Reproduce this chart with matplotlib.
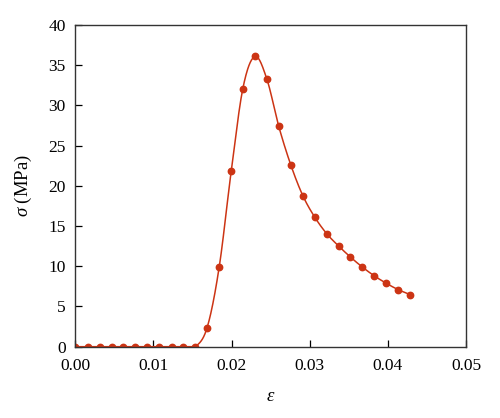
import matplotlib
matplotlib.use("Agg")
import matplotlib.pyplot as plt
import numpy as np

# strain / stress (evenly spaced samples)
strain = [0.0, 0.00158, 0.00311, 0.00465, 0.00614, 0.00767, 0.00921, 0.01074,
          0.01232, 0.01381, 0.01535, 0.01684, 0.01841, 0.01995, 0.02144,
          0.02302, 0.02451, 0.02604, 0.02758, 0.02911, 0.03065, 0.03218,
          0.03372, 0.03521, 0.03674, 0.03828, 0.03981, 0.04135, 0.04288]
stress = [0.0, 0.0, 0.0, 0.0, 0.0, 0.0, 0.0, 0.0,
          0.0, 0.0, 0.0, 2.28, 9.87, 21.8, 32.1,
          36.1, 33.3, 27.4, 22.6, 18.8, 16.1, 14.05,
          12.5, 11.15, 9.9, 8.8, 7.88, 7.08, 6.47]
x_ticks = [0.00, 0.01, 0.02, 0.03, 0.04, 0.05]
y_ticks = [0, 5, 10, 15, 20, 25, 30, 35, 40]

COLOR = "#cc3414"

plt.rcParams["font.family"] = ["Liberation Serif", "DejaVu Serif"]
plt.rcParams["mathtext.fontset"] = "custom"
plt.rcParams["mathtext.it"] = "Liberation Serif:italic"
plt.rcParams["mathtext.rm"] = "Liberation Serif"


def _smooth(x, y, xs):
    """Cardinal (Catmull-Rom) cubic through the samples, for the drawn line only."""
    x = np.asarray(x, float)
    y = np.asarray(y, float)
    h = np.diff(x)
    m = np.gradient(y, x)
    idx = np.clip(np.searchsorted(x, xs) - 1, 0, len(h) - 1)
    t = (xs - x[idx]) / h[idx]
    h00 = 2 * t**3 - 3 * t**2 + 1
    h10 = t**3 - 2 * t**2 + t
    h01 = -2 * t**3 + 3 * t**2
    h11 = t**3 - t**2
    ys = (h00 * y[idx] + h10 * h[idx] * m[idx]
          + h01 * y[idx + 1] + h11 * h[idx] * m[idx + 1])
    return np.maximum(ys, 0.0)


fig = plt.figure(figsize=(5.0, 4.18), dpi=100)
ax = fig.add_axes([0.1506, 0.1706, 0.7814, 0.7694])

xs = np.linspace(strain[0], strain[-1], 800)
ax.plot(xs, _smooth(strain, stress, xs), color=COLOR, lw=1.1)
ax.plot(strain, stress, "o", color=COLOR, ms=4.6, mec=COLOR)

ax.set_xlim(0, 0.05)
ax.set_ylim(0, 40)
ax.set_xticks(x_ticks)
ax.set_xticklabels([f"{v:.2f}" for v in x_ticks])
ax.set_yticks(y_ticks)
ax.tick_params(direction="in", length=5, width=0.9, labelsize=12.5,
               top=False, right=False)
ax.tick_params(axis="x", pad=8)
ax.tick_params(axis="y", pad=7)
for s in ax.spines.values():
    s.set_linewidth(1.0)
    s.set_color("#333333")

ax.set_xlabel(r"$\varepsilon$", fontsize=13.5, labelpad=10)
ax.set_ylabel(r"$\sigma$ (MPa)", fontsize=13.5, labelpad=10)

fig.savefig("out.png", dpi=100)
